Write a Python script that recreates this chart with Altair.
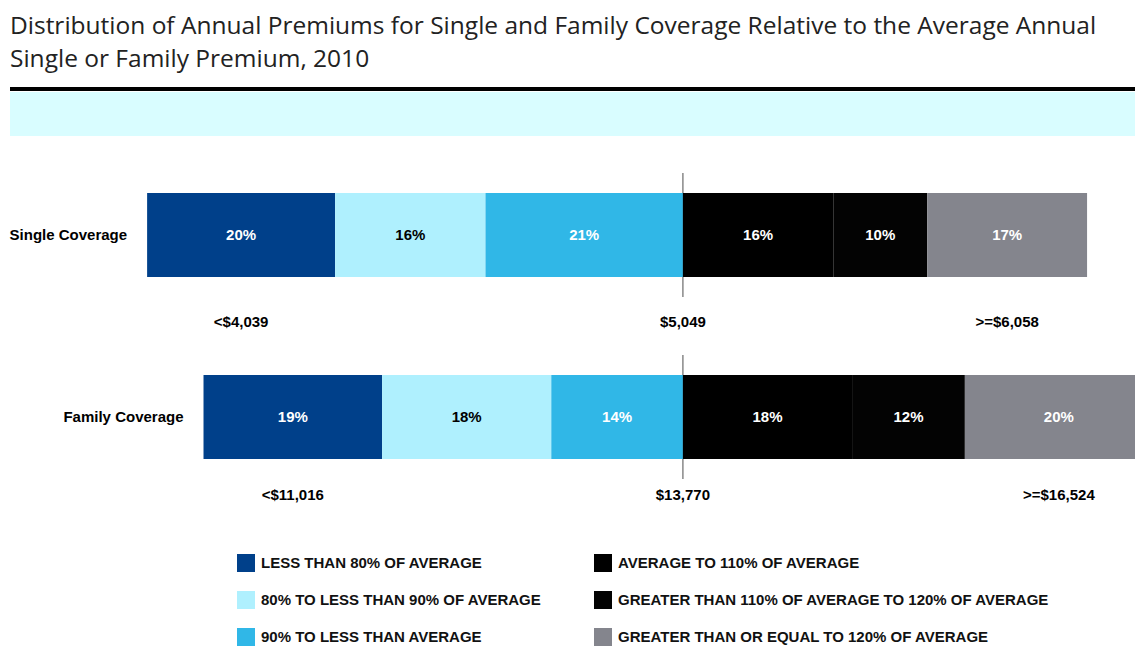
import altair as alt
import pandas as pd

# ---- data ----
rows = ["Single Coverage", "Family Coverage"]
categories = [
    "LESS THAN 80% OF AVERAGE",
    "80% TO LESS THAN 90% OF AVERAGE",
    "90% TO LESS THAN AVERAGE",
    "AVERAGE TO 110% OF AVERAGE",
    "GREATER THAN 110% OF AVERAGE TO 120% OF AVERAGE",
    "GREATER THAN OR EQUAL TO 120% OF AVERAGE",
]
single_values = [20, 16, 21, 16, 10, 17]
family_values = [19, 18, 14, 18, 12, 20]
single_thresholds = ["<$4,039", "$5,049", ">=$6,058"]
family_thresholds = ["<$11,016", "$13,770", ">=$16,524"]
colors = ["#00408a", "#aff0fe", "#30b7e7", "#000000", "#030303", "#84858d"]
label_colors = ["white", "black", "white", "white", "white", "white"]
title_lines = [
    "Distribution of Annual Premiums for Single and Family Coverage Relative to the Average Annual",
    "Single or Family Premium, 2010",
]

FONT = "Liberation Sans Narrow, Liberation Sans, sans-serif"
TITLE_FONT = "Open Sans, sans-serif"

# ---- build tables ----
recs = []
for row, vals in zip(rows, [single_values, family_values]):
    left = vals[:3]
    right = vals[3:]
    pos = 0
    left_recs = []
    for cat, v, tc in reversed(list(zip(categories[:3], left, label_colors[:3]))):
        left_recs.append(dict(row=row, cat=cat, v=v, start=pos - v, end=pos, tc=tc))
        pos -= v
    recs.extend(reversed(left_recs))
    pos = 0
    for cat, v, tc in zip(categories[3:], right, label_colors[3:]):
        recs.append(dict(row=row, cat=cat, v=v, start=pos, end=pos + v, tc=tc))
        pos += v
bars_df = pd.DataFrame(recs)
bars_df["mid"] = (bars_df["start"] + bars_df["end"]) / 2
bars_df["lbl"] = bars_df["v"].astype(str) + "%"

thr = []
for row, labels in zip(rows, [single_thresholds, family_thresholds]):
    sub = bars_df[bars_df["row"] == row]
    xs_ = [sub.iloc[0]["mid"], 0, sub.iloc[-1]["mid"]]
    for x, t in zip(xs_, labels):
        thr.append(dict(row=row, x=x, t=t))
thr_df = pd.DataFrame(thr)

rowlab_df = bars_df.groupby("row", as_index=False)["start"].min()

legend_df = pd.DataFrame(
    dict(cat=categories, col=[i // 3 for i in range(6)], r=[i % 3 for i in range(6)])
)

W, H = 1127, 640

xs = alt.Scale(domain=[-71.8, 48.1], nice=False, zero=False)
ys = alt.Scale(domain=rows, range=[185, 451], paddingInner=0.538, paddingOuter=0)
cs = alt.Scale(domain=categories, range=colors)

base = alt.Chart(bars_df)

tick = alt.Chart(pd.DataFrame({"row": rows, "x": [0, 0]})).mark_tick(
    orient="vertical", size=124, thickness=1.5, color="#555555"
).encode(
    x=alt.X("x:Q", scale=xs, axis=None),
    y=alt.Y("row:N", scale=ys, axis=None),
)

bars = base.mark_bar(clip=True).encode(
    x=alt.X("start:Q", scale=xs, axis=None),
    x2="end:Q",
    y=alt.Y("row:N", scale=ys, axis=None),
    color=alt.Color("cat:N", scale=cs, legend=None),
)

bartext = base.mark_text(font=FONT, fontSize=15, fontWeight="bold").encode(
    x=alt.X("mid:Q", scale=xs, axis=None),
    y=alt.Y("row:N", scale=ys, axis=None),
    text="lbl:N",
    color=alt.Color("tc:N", scale=None),
)

thr_single = alt.Chart(thr_df).transform_filter(
    alt.datum.row == rows[0]
).mark_text(font=FONT, fontSize=15, fontWeight="bold", dy=87, color="black").encode(
    x=alt.X("x:Q", scale=xs, axis=None),
    y=alt.Y("row:N", scale=ys, axis=None),
    text="t:N",
)
thr_family = alt.Chart(thr_df).transform_filter(
    alt.datum.row == rows[1]
).mark_text(font=FONT, fontSize=15, fontWeight="bold", dy=78, color="black").encode(
    x=alt.X("x:Q", scale=xs, axis=None),
    y=alt.Y("row:N", scale=ys, axis=None),
    text="t:N",
)

rowlab = alt.Chart(rowlab_df).mark_text(
    font=FONT, fontSize=15, fontWeight="bold", align="right", dx=-20, color="black"
).encode(
    x=alt.X("start:Q", scale=xs, axis=None),
    y=alt.Y("row:N", scale=ys, axis=None),
    text="row:N",
)

main = alt.layer(tick, bars, bartext, thr_single, thr_family, rowlab)

lx = alt.Scale(domain=[0, 1], range=[238, 595])
ly = alt.Scale(domain=[0, 2], range=[555, 629])
leg_sq = alt.Chart(legend_df).mark_square(size=324, opacity=1).encode(
    x=alt.X("col:Q", scale=lx, axis=None),
    y=alt.Y("r:Q", scale=ly, axis=None),
    color=alt.Color("cat:N", scale=cs, legend=None),
)
leg_txt = alt.Chart(legend_df).mark_text(
    font=FONT, fontSize=15, fontWeight="bold", align="left", dx=15, color="#111111"
).encode(
    x=alt.X("col:Q", scale=lx, axis=None),
    y=alt.Y("r:Q", scale=ly, axis=None),
    text="cat:N",
)
legend = alt.layer(leg_sq, leg_txt)

dummy = pd.DataFrame({"a": [0]})
band = alt.Chart(dummy).mark_rect(color="#d9fdff").encode(
    x=alt.value(2), x2=alt.value(W), y=alt.value(84), y2=alt.value(128)
)
line = alt.Chart(dummy).mark_rect(color="#000000").encode(
    x=alt.value(2), x2=alt.value(W), y=alt.value(79), y2=alt.value(83)
)
t1 = alt.Chart(dummy).mark_text(
    font=TITLE_FONT, fontSize=24.5, align="left", baseline="middle", color="#222222", text=title_lines[0]
).encode(x=alt.value(2), y=alt.value(19))
t2 = alt.Chart(dummy).mark_text(
    font=TITLE_FONT, fontSize=24.5, align="left", baseline="middle", color="#222222", text=title_lines[1]
).encode(x=alt.value(2), y=alt.value(52))

chart = alt.layer(band, line, t1, t2, main, legend).resolve_scale(
    x="independent", y="independent"
).properties(
    width=W, height=H, autosize="none", padding=0
).configure_view(stroke=None)

chart.save("out.html", embed_options={"renderer": "svg", "actions": False})
